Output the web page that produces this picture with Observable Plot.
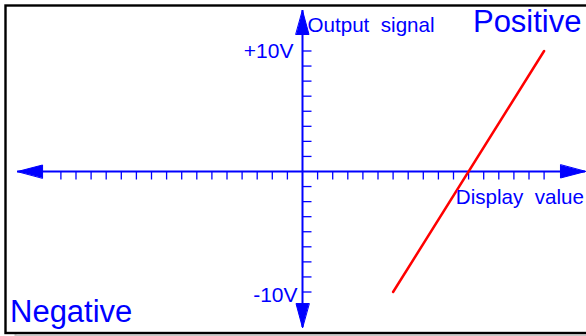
<!DOCTYPE html>
<html><head><meta charset="utf-8">
<script src="https://cdn.jsdelivr.net/npm/d3@7"></script>
<script src="https://cdn.jsdelivr.net/npm/@observablehq/plot@0.6"></script>
<style>html,body{margin:0;padding:0;background:#fff;overflow:hidden}</style>
</head><body><div id="chart"></div>
<script>
// Display value ticks (horizontal axis)
const displayTicks = [-16,-15,-14,-13,-12,-11,-10,-9,-8,-7,-6,-5,-4,-3,-2,-1,1,2,3,4,5,6,7,8,9,10,11,12,13,14,15,16];
// Output signal ticks in volts (vertical axis)
const voltTicks = [-10,-8.75,-7.5,-6.25,-5,-3.75,-2.5,-1.25,1.25,2.5,3.75,5,6.25,7.5,8.75,10];
const voltLabels = ["+10V", "-10V"];
const voltLabelValues = [10, -10];
// axis extents (arrow tips), in data units
const displayAxisEnds = [-18.87, 18.74];
const voltAxisEnds = [-12.95, 13.36];
// the red transfer line
const signalDisplay = [6, 16];
const signalVolts = [-10, 10];
const axisTitles = ["Output\u00a0\u00a0signal", "Display\u00a0\u00a0value"];
const cornerLabels = ["Positive", "Negative"];

const BLUE = "#0000ff";
const RED = "#ff0000";

const tickShape = {draw(ctx, l) { ctx.moveTo(0, 0); ctx.lineTo(0, -l); }};
const headShape = {draw(ctx, l, r) { ctx.moveTo(0, -l); ctx.lineTo(r, 0); ctx.lineTo(-r, 0); ctx.closePath(); }};

const lineData = signalDisplay.map((x, i) => ({x, y: signalVolts[i]}));

const chart = Plot.plot({
  width: 586,
  height: 336,
  marginTop: 5,
  marginLeft: 5,
  marginBottom: 3.5,
  marginRight: -3,
  style: {fontFamily: "'Liberation Sans', Arial, sans-serif", background: "#fff"},
  x: {domain: [-16, 16], range: [60.4, 543.6], axis: null},
  y: {domain: [-10, 10], range: [291.5, 50.5], axis: null},
  marks: [
    Plot.frame({stroke: "#c8c8c8", strokeWidth: 2, dy: 2.5, dx: 10, insetRight: -20}),
    Plot.frame({stroke: "black", strokeWidth: 2.4, insetRight: -8, fill: "white"}),
    Plot.ruleY([0], {x1: () => displayAxisEnds[0], x2: () => displayAxisEnds[1], stroke: BLUE, strokeWidth: 2}),
    Plot.ruleX([0], {y1: () => voltAxisEnds[0], y2: () => voltAxisEnds[1], stroke: BLUE, strokeWidth: 2}),
    Plot.vector(displayTicks, {x: d => d, y: () => 0, length: 8, rotate: 180, anchor: "start", shape: tickShape, stroke: BLUE, strokeWidth: 1.3, strokeLinecap: "butt"}),
    Plot.vector(voltTicks, {x: () => 0, y: d => d, length: 9, rotate: 90, anchor: "start", shape: tickShape, stroke: BLUE, strokeWidth: 1.3, strokeLinecap: "butt"}),
    Plot.vector(displayAxisEnds, {x: d => d, y: () => 0, rotate: d => d < 0 ? 270 : 90, length: 25, r: 6.5, anchor: "end", shape: headShape, fill: BLUE, stroke: BLUE, strokeWidth: 1}),
    Plot.vector(voltAxisEnds, {x: () => 0, y: d => d, rotate: d => d < 0 ? 180 : 0, length: 24, r: 6.5, anchor: "end", shape: headShape, fill: BLUE, stroke: BLUE, strokeWidth: 1}),
    Plot.line(lineData, {x: "x", y: "y", stroke: RED, strokeWidth: 2.5}),
    Plot.text([voltLabels[0]], {x: () => 0, y: () => voltLabelValues[0], text: d => d, textAnchor: "end", lineAnchor: "middle", dx: -9, dy: 0, fontSize: 21, fill: BLUE}),
    Plot.text([voltLabels[1]], {x: () => 0, y: () => voltLabelValues[1], text: d => d, textAnchor: "end", lineAnchor: "middle", dx: -5, dy: 3.5, fontSize: 21, fill: BLUE}),
    Plot.text([axisTitles[0]], {x: () => 0, frameAnchor: "top", text: d => d, textAnchor: "start", lineAnchor: "top", dx: 5, dy: 12, fontSize: 20.6, fill: BLUE}),
    Plot.text([axisTitles[1]], {y: () => 0, frameAnchor: "right", text: d => d, textAnchor: "end", lineAnchor: "top", dx: -5.5, dy: 18, fontSize: 20.6, fill: BLUE}),
    Plot.text([cornerLabels[0]], {frameAnchor: "top-right", text: d => d, textAnchor: "end", lineAnchor: "top", dx: -8, dy: 4.5, fontSize: 31, fill: BLUE}),
    Plot.text([cornerLabels[1]], {frameAnchor: "bottom-left", text: d => d, textAnchor: "start", lineAnchor: "bottom", dx: 4.5, dy: -11.5, fontSize: 31, fill: BLUE})
  ]
});
document.getElementById("chart").appendChild(chart);
</script>
</body></html>
